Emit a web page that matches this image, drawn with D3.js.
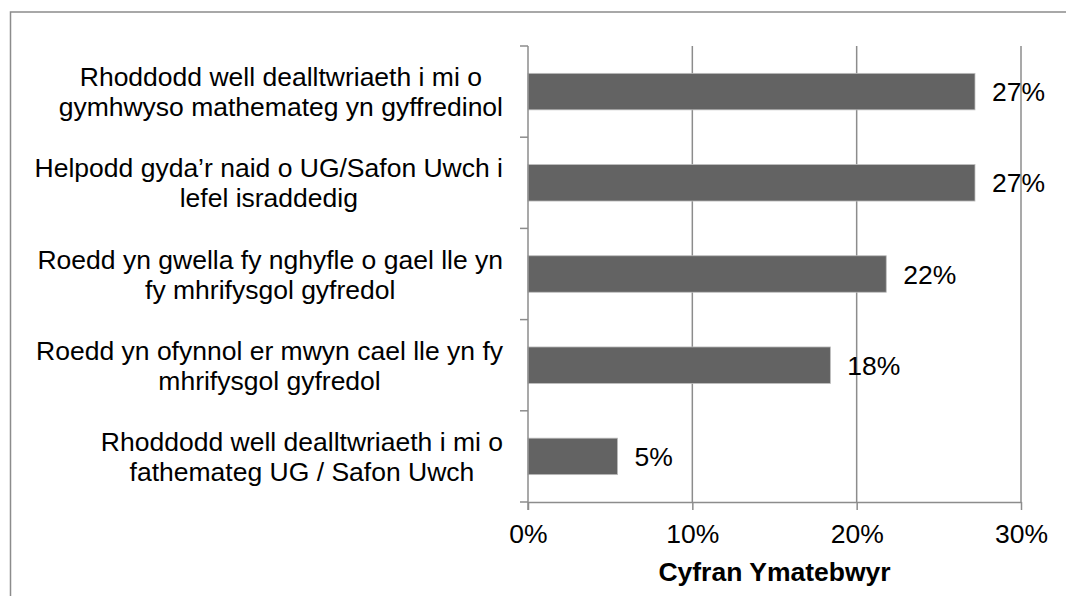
<!DOCTYPE html>
<html>
<head>
<meta charset="utf-8">
<script src="https://cdn.jsdelivr.net/npm/d3@7"></script>
<style>
  body { margin: 0; background: #fff; }
  svg { display: block; font-family: Arial, "Liberation Sans", sans-serif; }
</style>
</head>
<body>
<svg width="1066" height="596"></svg>
<script>
// chart values
const categories = [
  ['Rhoddodd well dealltwriaeth i mi o', 'gymhwyso mathemateg yn gyffredinol'],
  ['Helpodd gyda\u2019r naid o UG/Safon Uwch i', 'lefel israddedig'],
  ['Roedd yn gwella fy nghyfle o gael lle yn', 'fy mhrifysgol gyfredol'],
  ['Roedd yn ofynnol er mwyn cael lle yn fy', 'mhrifysgol gyfredol'],
  ['Rhoddodd well dealltwriaeth i mi o', 'fathemateg UG / Safon Uwch']
];
const values = [27.2, 27.2, 21.8, 18.4, 5.45];
const valueLabels = ['27%', '27%', '22%', '18%', '5%'];
const xTicks = [0, 10, 20, 30];
const axisTitle = 'Cyfran Ymatebwyr';

const svg = d3.select('svg');
const fontSize = 26.5;
const plotLeft = 528, plotRight = 1021, plotTop = 46, plotBottom = 502;
const gray = '#8c8c8c';

// outer border of the chart area (right and bottom run off the page)
svg.append('rect')
  .attr('x', 10.5).attr('y', 12)
  .attr('width', 1200).attr('height', 800)
  .attr('fill', 'none')
  .attr('stroke', gray)
  .attr('stroke-width', 1.5);

const x = d3.scaleLinear().domain([0, 30]).range([plotLeft, plotRight]);
const y = d3.scaleBand()
  .domain(d3.range(categories.length))
  .range([plotTop, plotBottom])
  .paddingInner(0.6)
  .paddingOuter(0.3);

// gridlines
svg.append('g')
  .selectAll('line')
  .data(xTicks.slice(1))
  .join('line')
  .attr('x1', d => x(d)).attr('x2', d => x(d))
  .attr('y1', plotTop).attr('y2', plotBottom)
  .attr('stroke', gray)
  .attr('stroke-width', 1.5);

// bars
svg.append('g')
  .selectAll('rect')
  .data(values)
  .join('rect')
  .attr('x', x(0))
  .attr('y', (d, i) => y(i))
  .attr('width', d => x(d) - x(0))
  .attr('height', y.bandwidth())
  .attr('fill', '#636363')
  .attr('stroke', '#bdbdbd')
  .attr('stroke-width', 0.8);

// value labels
svg.append('g')
  .selectAll('text')
  .data(values)
  .join('text')
  .attr('x', d => x(d) + 17)
  .attr('y', (d, i) => y(i) + y.bandwidth() / 2)
  .attr('dy', '0.36em')
  .attr('font-size', fontSize)
  .attr('fill', '#000')
  .text((d, i) => valueLabels[i]);

// x axis
const xAxis = svg.append('g')
  .attr('transform', `translate(0,${plotBottom})`)
  .call(d3.axisBottom(x).tickValues(xTicks).tickSize(8).tickSizeOuter(0)
    .tickFormat(d => d + '%'));
xAxis.select('.domain').attr('stroke', gray).attr('stroke-width', 1.5);
xAxis.selectAll('.tick line').attr('stroke', gray).attr('stroke-width', 1.5);
xAxis.selectAll('.tick text')
  .attr('font-size', fontSize)
  .attr('font-family', 'Arial, "Liberation Sans", sans-serif')
  .attr('fill', '#000')
  .attr('y', 41).attr('dy', 0);

// y axis: line with outward ticks at category boundaries
const yAxis = svg.append('g');
yAxis.append('line')
  .attr('x1', plotLeft).attr('x2', plotLeft)
  .attr('y1', plotTop).attr('y2', plotBottom + 8)
  .attr('stroke', gray).attr('stroke-width', 1.5);
yAxis.selectAll('.cat-tick')
  .data(d3.range(categories.length + 1))
  .join('line')
  .attr('class', 'cat-tick')
  .attr('x1', plotLeft - 8).attr('x2', plotLeft)
  .attr('y1', i => plotTop + i * y.step())
  .attr('y2', i => plotTop + i * y.step())
  .attr('stroke', gray).attr('stroke-width', 1.5);

// category labels: block right-aligned to the axis, lines centred within it
const catGroup = svg.append('g')
  .attr('font-size', fontSize)
  .attr('fill', '#000');
const lineHeight = 30;
categories.forEach((lines, i) => {
  const cy = y(i) + y.bandwidth() / 2;
  const t = catGroup.append('text').attr('text-anchor', 'middle');
  const spans = lines.map((ln, j) => t.append('tspan')
    .attr('y', cy + (j - (lines.length - 1) / 2) * lineHeight)
    .attr('dy', '0.36em')
    .text(ln));
  const maxW = d3.max(spans, s => s.node().getComputedTextLength());
  spans.forEach(s => s.attr('x', plotLeft - 25 - maxW / 2));
});

// axis title
svg.append('text')
  .attr('x', (plotLeft + plotRight) / 2)
  .attr('y', 581)
  .attr('text-anchor', 'middle')
  .attr('font-size', fontSize)
  .attr('font-weight', 'bold')
  .attr('fill', '#000')
  .text(axisTitle);
</script>
</body>
</html>
